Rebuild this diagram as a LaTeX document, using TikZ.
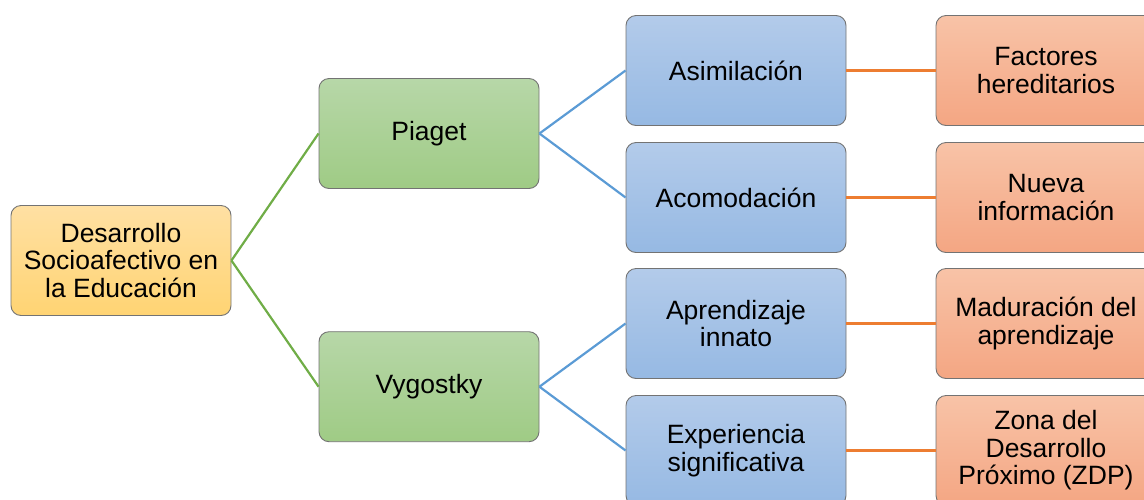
\documentclass[tikz,border=0pt]{standalone}
\usepackage{fontspec}
\setmainfont{Liberation Sans}
\begin{document}
\begin{tikzpicture}[x=1pt,y=-1pt,
  box/.style={rectangle, rounded corners=10pt, draw=black!55, line width=0.9pt,
    minimum width=220pt, minimum height=110pt, align=center, inner sep=2pt,
    font=\fontsize{26.5pt}{27.5pt}\selectfont, text=black},
  yel/.style={box, top color=yelT, bottom color=yelB},
  grn/.style={box, top color=grnT, bottom color=grnB},
  blu/.style={box, top color=bluT, bottom color=bluB},
  org/.style={box, top color=orgT, bottom color=orgB},
  gline/.style={draw=lnG, line width=2.2pt},
  bline/.style={draw=lnB, line width=2.2pt},
  oline/.style={draw=lnO, line width=2.2pt}]
\definecolor{yelT}{HTML}{FFE0A3}
\definecolor{yelB}{HTML}{FFD473}
\definecolor{grnT}{HTML}{B7D7A8}
\definecolor{grnB}{HTML}{9FCB85}
\definecolor{bluT}{HTML}{B3CBEA}
\definecolor{bluB}{HTML}{96B9E3}
\definecolor{orgT}{HTML}{F8C3A7}
\definecolor{orgB}{HTML}{F4A683}
\definecolor{lnG}{HTML}{70AD47}
\definecolor{lnB}{HTML}{5B9BD5}
\definecolor{lnO}{HTML}{ED7D31}
\clip (0,0) rectangle (1144,499);
\node[yel] (root) at (121,260.5) {Desarrollo\\Socioafectivo en\\la Educación};
\node[grn] (pia) at (429,133.5) {Piaget};
\node[grn] (vyg) at (429,386.7) {Vygostky};
\node[blu] (asi) at (736,70.5) {Asimilación};
\node[blu] (aco) at (736,197.5) {Acomodación};
\node[blu] (apr) at (736,323.5) {Aprendizaje\\innato};
\node[blu] (exp) at (736,450.5) {Experiencia\\significativa};
\node[org] (fac) at (1046,70.5) {Factores\\hereditarios};
\node[org] (nue) at (1046,197.5) {Nueva\\información};
\node[org] (mad) at (1046,323.5) {Maduración del\\aprendizaje};
\node[org] (zon) at (1046,450.5) {Zona del\\Desarrollo\\Próximo (ZDP)};
\draw[gline] (root.east) -- (pia.west);
\draw[gline] (root.east) -- (vyg.west);
\draw[bline] (pia.east) -- (asi.west);
\draw[bline] (pia.east) -- (aco.west);
\draw[bline] (vyg.east) -- (apr.west);
\draw[bline] (vyg.east) -- (exp.west);
\draw[oline] (asi.east) -- (fac.west);
\draw[oline] (aco.east) -- (nue.west);
\draw[oline] (apr.east) -- (mad.west);
\draw[oline] (exp.east) -- (zon.west);
\end{tikzpicture}
\end{document}
